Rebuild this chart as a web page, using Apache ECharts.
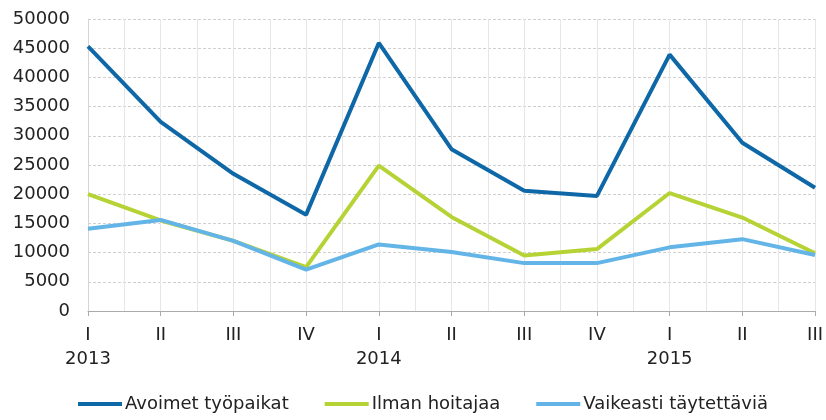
<!DOCTYPE html>
<html><head><meta charset="utf-8">
<script src="https://cdn.jsdelivr.net/npm/echarts@6/dist/echarts.min.js"></script>
<style>html,body{margin:0;padding:0;background:#fff}#c{width:826px;height:420px}</style>
</head><body><div id="c"></div>
<script>
const quarters = ['I','II','III','IV','I','II','III','IV','I','II','III'];
const years = ['2013','','','','2014','','','','2015','',''];
const avoimet = [45300, 32400, 23500, 16500, 45900, 27700, 20600, 19700, 43900, 28800, 21100];
const ilman = [20000, 15500, 12000, 7500, 24900, 16100, 9500, 10600, 20200, 16000, 9900];
const vaikeasti = [14100, 15600, 12000, 7100, 11400, 10100, 8200, 8200, 10900, 12300, 9600];
const seriesNames = ['Avoimet työpaikat', 'Ilman hoitajaa', 'Vaikeasti täytettäviä'];
const colors = ['#0e68a7', '#b6d336', '#63b4e7'];

const font = 'DejaVu Sans';
const chart = echarts.init(document.getElementById('c'), null, {renderer: 'canvas'});
const mk = (name, data, color) => ({
  name, type: 'line', data, xAxisIndex: 0, yAxisIndex: 0,
  symbol: 'none', lineStyle: {color, width: 4}, itemStyle: {color},
  emphasis: {disabled: true}
});
chart.setOption({
  animation: false,
  grid: {left: 88, right: 8, top: 19, bottom: 109, containLabel: false},
  legend: {
    left: 73, top: 390, itemWidth: 44, itemHeight: 4, itemGap: 36,
    icon: 'rect',
    textStyle: {fontFamily: font, fontSize: 18, color: '#222', padding: [0,0,0,-2]},
    data: seriesNames
  },
  xAxis: [{
    type: 'category', data: quarters, boundaryGap: false,
    axisLine: {lineStyle: {color: '#aaa', width: 1}},
    axisTick: {show: true, length: 5, lineStyle: {color: '#aaa'}},
    splitLine: {show: false},
    axisLabel: {
      fontFamily: font, fontSize: 18, color: '#222', margin: 12, lineHeight: 24,
      interval: 0,
      formatter: (v, i) => years[i] ? v + '\n' + years[i] : v
    }
  }, {
    type: 'value', min: 0, max: 10, interval: 0.5, position: 'bottom',
    axisLine: {show: false}, axisTick: {show: false}, axisLabel: {show: false},
    splitLine: {show: true, lineStyle: {color: '#e6e6e6', type: 'solid', width: 1}}
  }],
  yAxis: {
    type: 'value', min: 0, max: 50000, interval: 5000,
    axisLine: {show: true, lineStyle: {color: '#d4d4d4'}},
    axisTick: {show: false},
    axisLabel: {fontFamily: font, fontSize: 18, color: '#222', margin: 18,
      formatter: v => String(v)},
    splitLine: {show: true, lineStyle: {color: '#d0d0d0', type: [3, 2], width: 1}}
  },
  series: [
    mk(seriesNames[0], avoimet, colors[0]),
    mk(seriesNames[1], ilman, colors[1]),
    mk(seriesNames[2], vaikeasti, colors[2])
  ]
});
</script></body></html>
